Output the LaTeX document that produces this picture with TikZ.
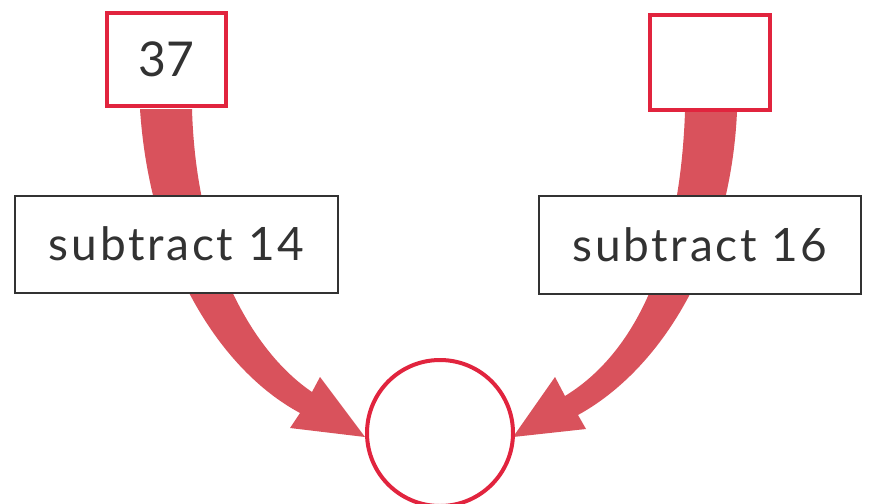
\documentclass[tikz,border=0pt]{standalone}
\usepackage{fontspec}
\setmainfont{Lato}
\definecolor{arrowred}{RGB}{217,82,92}
\definecolor{boxred}{RGB}{225,36,62}
\definecolor{ink}{RGB}{50,50,50}
\begin{document}
\begin{tikzpicture}[x=1pt,y=-1pt,
  redbox/.style={draw=boxred,line width=4pt,fill=white,inner sep=0pt},
  opbox/.style={draw=ink,line width=2pt,fill=white,inner sep=0pt,text=ink,font=\fontsize{46}{52}\selectfont\addfontfeatures{LetterSpace=6}},
  fatarrow/.style={fill=arrowred,draw=none}]
\useasboundingbox (0,0) rectangle (874,503);
\clip (0,0) rectangle (874,503);
\fill[white] (0,0) rectangle (874,503);
% arrows (behind boxes)
\coordinate (lt) at (365,437);
\coordinate (rt) at (513,437);
\fill[fatarrow] (140,109) .. controls (150,260) and (220,370) .. (300,413)
  -- (290,428) -- (lt) -- (320,377) -- (312,392)
  .. controls (250,350) and (196,250) .. (192,109) -- cycle;
\fill[fatarrow] (737,112) .. controls (730,260) and (660,370) .. (578,415)
  -- (586,429) -- (rt) -- (555,377) -- (565,396)
  .. controls (640,350) and (680,250) .. (685,112) -- cycle;
% boxes
\node[redbox,minimum width=119pt,minimum height=93pt,text=ink,font=\fontsize{48}{56}\selectfont] (a) at (166.5,59.5) {37};
\node[redbox,minimum width=120pt,minimum height=95pt] (b) at (710,62.5) {};
\node[opbox,minimum width=323pt,minimum height=97pt] (s1) at (176.5,244) {subtract 14};
\node[opbox,minimum width=322pt,minimum height=98pt] (s2) at (700,244.5) {subtract 16};
\node[draw=boxred,line width=4pt,fill=none,circle,minimum size=146pt,inner sep=0pt] (r) at (440,433) {};
\end{tikzpicture}
\end{document}
